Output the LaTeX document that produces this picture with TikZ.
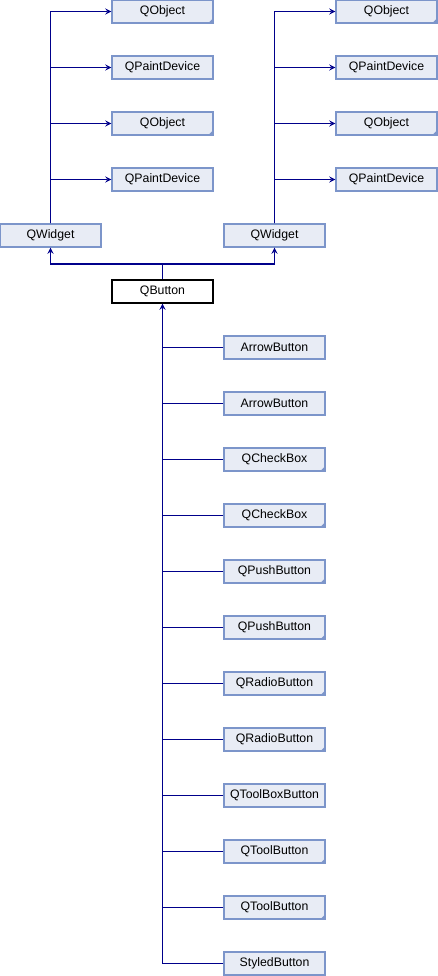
\documentclass[tikz,border=0pt]{standalone}
\usepackage{fontspec}
\setmainfont{Liberation Sans}
\usetikzlibrary{arrows}
\definecolor{edgeblue}{RGB}{0,0,139}
\definecolor{boxfill}{RGB}{232,236,245}
\definecolor{boxline}{RGB}{124,149,202}

\begin{document}
\begin{tikzpicture}[x=0.02cm,y=-0.02cm,>=stealth,
  cls/.style={draw=boxline,fill=boxfill,line width=0.6pt,minimum width=2.02cm,minimum height=0.46cm,inner sep=0pt,font=\fontsize{7}{8}\selectfont},
  folded/.style={path picture={\fill[boxline] (path picture bounding box.south east) -- ++(-0.09cm,0) -- ++(0.09cm,0.09cm) -- cycle;}},
  nocorner/.style={},
  inh/.style={edgeblue,line width=0.6pt}]
\useasboundingbox (0,0) rectangle (438,976);
\node[cls,folded] (lobj1) at (162.5,11.5) {QObject};
\node[cls] (lpd1) at (162.5,67.5) {QPaintDevice};
\node[cls,folded] (lobj2) at (162.5,123.5) {QObject};
\node[cls] (lpd2) at (162.5,179.5) {QPaintDevice};
\node[cls,folded] (robj1) at (386.5,11.5) {QObject};
\node[cls] (rpd1) at (386.5,67.5) {QPaintDevice};
\node[cls,folded] (robj2) at (386.5,123.5) {QObject};
\node[cls] (rpd2) at (386.5,179.5) {QPaintDevice};
\node[cls] (wl) at (50.5,235.5) {QWidget};
\node[cls] (wr) at (274.5,235.5) {QWidget};
\node[cls,draw=black,fill=white] (btn) at (162.5,291.5) {QButton};
\foreach \n in {lobj1,lpd1,lobj2,lpd2} \draw[inh,->] (wl.north) |- (\n.west);
\foreach \n in {robj1,rpd1,robj2,rpd2} \draw[inh,->] (wr.north) |- (\n.west);
\coordinate (split) at (162.5,264);
\draw[inh] (btn.north) -- (split);
\draw[inh,->] (split) -| (wl.south); \draw[inh,->] (split) -| (wr.south);
\foreach \name/\sty [count=\i] in {ArrowButton/nocorner,ArrowButton/nocorner,QCheckBox/folded,QCheckBox/folded,
  QPushButton/folded,QPushButton/folded,QRadioButton/folded,QRadioButton/folded,
  QToolBoxButton/nocorner,QToolButton/folded,QToolButton/folded,StyledButton/nocorner}
  \node[cls,\sty] (sub\i) at (274.5,291.5+56*\i) {\name};
\draw[inh,->] (sub12.west) -| (btn.south);
\foreach \i in {1,...,11} \draw[inh] (sub\i.west) -- (btn.south |- sub\i.west);
\end{tikzpicture}
\end{document}
